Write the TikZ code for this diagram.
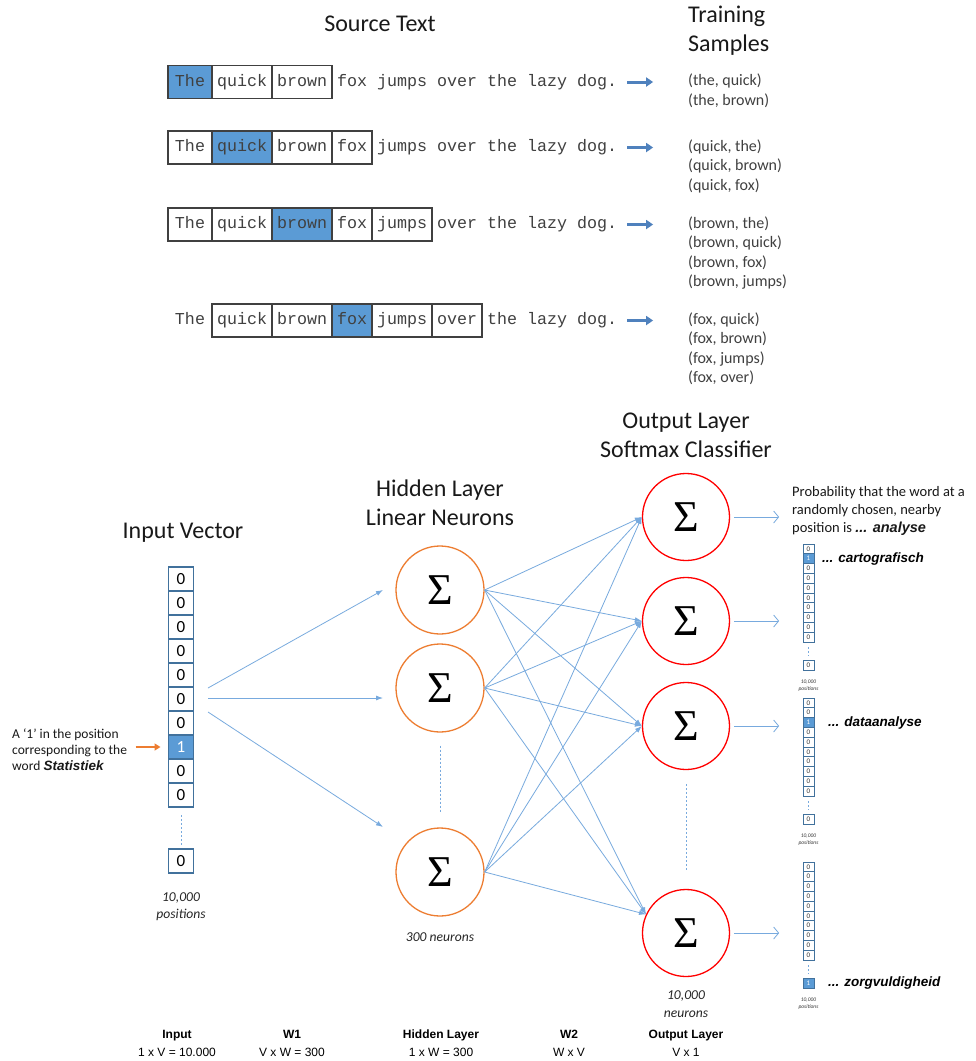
\documentclass[tikz,border=0pt]{standalone}
\usepackage{fontspec}
\setmainfont{Carlito}
\newfontfamily\monofont{Liberation Mono}
\newfontfamily\arialfont{Liberation Sans}
\newfontfamily\sigmafont{Liberation Serif}
\usetikzlibrary{positioning,arrows.meta}

\definecolor{wordblue}{RGB}{91,155,213}
\definecolor{celledge}{RGB}{65,113,156}
\definecolor{linkblue}{RGB}{120,170,222}
\definecolor{samplearrowblue}{RGB}{79,129,189}
\definecolor{hiddenorange}{RGB}{237,125,49}
\definecolor{outred}{RGB}{255,0,0}
\definecolor{textgray}{RGB}{64,64,64}

\newcommand{\hotfont}{\arialfont\bfseries\itshape}

\tikzset{
  plainword/.style={font=\monofont\fontsize{16.67}{18}\selectfont, text=textgray,
                    inner xsep=5pt, inner ysep=0pt, outer sep=0pt,
                    minimum height=33pt, text height=11pt, text depth=3pt},
  boxword/.style={plainword, draw=black!75, line width=1.5pt},
  hiword/.style={boxword, fill=wordblue},
  sentarrow/.style={draw=samplearrowblue, line width=3pt, -{Triangle[length=7pt,width=9pt]}},
  title/.style={font=\fontsize{24}{29}\selectfont, text=black!90, align=center, inner sep=0pt},
  samplelist/.style={font=\fontsize{16}{19.3}\selectfont, text=textgray, align=left, inner sep=0pt},
  note/.style={font=\fontsize{13.5}{16}\selectfont, text=black!90, align=left, inner sep=0pt},
  count/.style={font=\itshape\fontsize{13.6}{17.5}\selectfont, text=black!85, align=center, inner sep=0pt},
  tinycount/.style={font=\itshape\fontsize{5.5}{7}\selectfont, text=black!80, align=center, inner sep=0pt},
  dims/.style={font=\arialfont\fontsize{12}{18}\selectfont, align=center, inner sep=0pt},
  zerocell/.style={draw=celledge, line width=1.3pt, fill=white, minimum width=25pt, minimum height=24pt,
                   inner sep=0pt, outer sep=0pt, font=\fontsize{17}{17}\selectfont},
  onecell/.style={zerocell, fill=wordblue, text=white},
  zerosmall/.style={draw=celledge, line width=0.8pt, fill=white, minimum width=11pt, minimum height=9.8pt,
                    inner sep=0pt, outer sep=0pt, font=\fontsize{7}{7}\selectfont, text=black!80},
  onesmall/.style={zerosmall, fill=wordblue, text=white},
  hidden/.style={circle, draw=hiddenorange, line width=1.3pt, minimum size=88pt, inner sep=0pt,
                 font=\sigmafont\fontsize{44}{44}\selectfont},
  outneuron/.style={hidden, draw=outred, minimum size=87pt},
  link/.style={draw=linkblue, line width=0.8pt, -{Latex[length=7pt,width=5pt]}},
  outarrow/.style={draw=linkblue, line width=0.8pt, -{Straight Barb[length=5pt,width=12pt]}},
  dotline/.style={draw=linkblue, line width=0.8pt, dash pattern=on 2pt off 2pt},
  onearrow/.style={draw=hiddenorange, line width=1.6pt, -{Triangle[length=6pt,width=7pt]}},
  hotword/.style={font=\hotfont\fontsize{13.5}{16}\selectfont, inner sep=0pt}
}

\newcommand{\sentenceRow}[3]{% #1: row name
                             % #2: y of the row
                             % #3: list of word/style
  \foreach \w/\s [count=\i] in {#3} {
    \ifnum\i=1
      \node (#1_\i) [\s, minimum width=44pt, anchor=west] at (168,#2) {\w};
    \else
      \pgfmathtruncatemacro{\prev}{\i-1}
      \node (#1_\i) [\s, right=0pt of #1_\prev] {\w};
    \fi
  }
}

\newcommand{\probVector}[5]{% #1: name
                            % #2: top of the vector
                            % #3: list of ten value/style
                            % #4: value of last cell
                            % #5: style of last cell
  \foreach \v/\s [count=\i] in {#3}
    \node (#1\i) [\s] at (808.5,{#2+9.8*\i-4.9}) {\v};
  \node (#1last) [#5] at (808.5,{#2+121}) {#4};
  \draw[dotline] ([yshift=-5pt]#110.south) -- ([yshift=4pt]#1last.north);
  \node (#1pos) [tinycount] at (808.5,{#2+141.5}) {10,000\\positions};
}

\begin{document}
\begin{tikzpicture}[x=1pt,y=-1pt]

\path[fill=white] (0,0) rectangle (976,1061);
\useasboundingbox (0,0) rectangle (976,1061);

\node (srctitle) [title] at (380,24) {Source Text};
\node (traintitle) [title, align=left, anchor=west] at (688,31) {Training\\Samples};

\sentenceRow{row1}{82}{The/hiword,quick/boxword,brown/boxword,fox/plainword,jumps/plainword,over/plainword,the/plainword,lazy/plainword,dog./plainword}
\sentenceRow{row2}{147.5}{The/boxword,quick/hiword,brown/boxword,fox/boxword,jumps/plainword,over/plainword,the/plainword,lazy/plainword,dog./plainword}
\sentenceRow{row3}{224.5}{The/boxword,quick/boxword,brown/hiword,fox/boxword,jumps/boxword,over/plainword,the/plainword,lazy/plainword,dog./plainword}
\sentenceRow{row4}{320.5}{The/plainword,quick/boxword,brown/boxword,fox/hiword,jumps/boxword,over/boxword,the/plainword,lazy/plainword,dog./plainword}

\draw[sentarrow] ([xshift=5pt]row1_9.east) -- ++(26,0);
\draw[sentarrow] ([xshift=5pt]row2_9.east) -- ++(26,0);
\draw[sentarrow] ([xshift=5pt]row3_9.east) -- ++(26,0);
\draw[sentarrow] ([xshift=5pt]row4_9.east) -- ++(26,0);

\node (samples1) [samplelist, anchor=north west] at (688,74) {(the, quick)\\(the, brown)};
\node (samples2) [samplelist, anchor=north west] at (688,139.5) {(quick, the)\\(quick, brown)\\(quick, fox)};
\node (samples3) [samplelist, anchor=north west] at (688,216.5) {(brown, the)\\(brown, quick)\\(brown, fox)\\(brown, jumps)};
\node (samples4) [samplelist, anchor=north west] at (688,312.5) {(fox, quick)\\(fox, brown)\\(fox, jumps)\\(fox, over)};

% input vector
\node (intitle) [title] at (183,533) {Input Vector};
\foreach \v/\s [count=\i] in {0/zerocell,0/zerocell,0/zerocell,0/zerocell,0/zerocell,0/zerocell,0/zerocell,1/onecell,0/zerocell,0/zerocell}
  \node (in\i) [\s] at (181,{555+24*\i}) {\v};
\node (inlast) [zerocell] at (181,861) {0};
\draw[dotline] ([yshift=-8pt]in10.south) -- ([yshift=4pt]inlast.north);
\node (incount) [count] at (181,906.5) {10,000\\positions};

\node (onelabel) [note, anchor=west] at (12,750) {A ‘1’ in the position\\corresponding to the\\word {\hotfont Statistiek}};
\draw[onearrow] ([xshift=-33pt]in8.west) -- ([xshift=-8pt]in8.west);

% hidden layer
\node (hiddentitle) [title] at (440,502.5) {Hidden Layer\\Linear Neurons};
\node (h1) [hidden] at (440,590) {Σ};
\node (h2) [hidden] at (440,688) {Σ};
\node (h3) [hidden] at (440,872) {Σ};
\draw[dotline] ([yshift=-13pt]h2.south) -- ([yshift=15pt]h3.north);
\node (hcount) [count] at (440,937) {300 neurons};

\coordinate (src1) at (208,688);
\coordinate (src2) at (208,698);
\coordinate (src3) at (208,712);
\coordinate (h1in) at (383,590);
\coordinate (h2in) at (383,698);
\coordinate (h3in) at (383,827);
\draw[link] (src1) -- (h1in);
\draw[link] (src2) -- (h2in);
\draw[link] (src3) -- (h3in);

% output layer
\node (outtitle) [title] at (686,435.5) {Output Layer\\Softmax Classifier};
\node (o1) [outneuron] at (686,517) {Σ};
\node (o2) [outneuron] at (686,621) {Σ};
\node (o3) [outneuron] at (686,726) {Σ};
\node (o4) [outneuron] at (686,933) {Σ};
\draw[dotline] ([yshift=-14pt]o3.south) -- ([yshift=17pt]o4.north);
\node (ocount) [count] at (686,1004) {10,000\\neurons};

\foreach \h in {1,2,3} {
  \foreach \o in {1,2,3}
    \draw[link] (h\h.east) -- (o\o.west);
  \draw[link] (h\h.east) -- (o4.155);
}

\foreach \o in {1,2,3,4}
  \draw[outarrow] ([xshift=4pt]o\o.east) -- ++(45,0);

% probabilities
\node (probtext) [note, font=\fontsize{14.5}{18}\selectfont, anchor=west] at (792,511) {Probability that the word at a\\randomly chosen, nearby\\position is {\hotfont ... analyse}};

\probVector{pa}{544}{0/zerosmall,1/onesmall,0/zerosmall,0/zerosmall,0/zerosmall,0/zerosmall,0/zerosmall,0/zerosmall,0/zerosmall,0/zerosmall}{0}{zerosmall}
\probVector{pb}{698}{0/zerosmall,0/zerosmall,1/onesmall,0/zerosmall,0/zerosmall,0/zerosmall,0/zerosmall,0/zerosmall,0/zerosmall,0/zerosmall}{0}{zerosmall}
\probVector{pc}{862}{0/zerosmall,0/zerosmall,0/zerosmall,0/zerosmall,0/zerosmall,0/zerosmall,0/zerosmall,0/zerosmall,0/zerosmall,0/zerosmall}{1}{onesmall}

\node (palabel) [hotword, right=8pt of pa2] {... cartografisch};
\node (pblabel) [hotword, right=14pt of pb3] {... dataanalyse};
\node (pclabel) [hotword, right=14pt of pclast] {... zorgvuldigheid};

% dimensions
\node (diminput) [dims] at (177,1043) {{\bfseries Input}\\1 x V = 10.000};
\node (dimw1) [dims] at (292,1043) {{\bfseries W1}\\V x W = 300};
\node (dimhidden) [dims] at (441,1043) {{\bfseries Hidden Layer}\\1 x W = 300};
\node (dimw2) [dims] at (569,1043) {{\bfseries W2}\\W x V};
\node (dimout) [dims] at (686,1043) {{\bfseries Output Layer}\\V x 1};

\end{tikzpicture}
\end{document}
